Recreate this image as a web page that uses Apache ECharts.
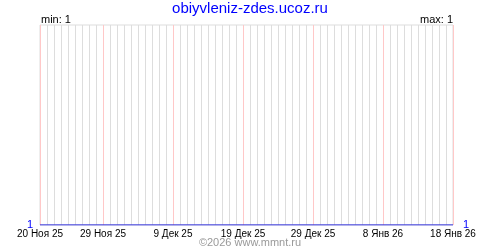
<!DOCTYPE html>
<html><head><meta charset="utf-8">
<script src="https://cdn.jsdelivr.net/npm/echarts@6/dist/echarts.min.js"></script>
<style>html,body{margin:0;padding:0;background:#fff}#c{width:500px;height:250px}</style>
</head><body><div id="c"></div>
<script>
const days = [
 "20 Ноя 25","21 Ноя 25","22 Ноя 25","23 Ноя 25","24 Ноя 25","25 Ноя 25","26 Ноя 25","27 Ноя 25","28 Ноя 25","29 Ноя 25",
 "30 Ноя 25","1 Дек 25","2 Дек 25","3 Дек 25","4 Дек 25","5 Дек 25","6 Дек 25","7 Дек 25","8 Дек 25","9 Дек 25",
 "10 Дек 25","11 Дек 25","12 Дек 25","13 Дек 25","14 Дек 25","15 Дек 25","16 Дек 25","17 Дек 25","18 Дек 25","19 Дек 25",
 "20 Дек 25","21 Дек 25","22 Дек 25","23 Дек 25","24 Дек 25","25 Дек 25","26 Дек 25","27 Дек 25","28 Дек 25","29 Дек 25",
 "30 Дек 25","31 Дек 25","1 Янв 26","2 Янв 26","3 Янв 26","4 Янв 26","5 Янв 26","6 Янв 26","7 Янв 26","8 Янв 26",
 "9 Янв 26","10 Янв 26","11 Янв 26","12 Янв 26","13 Янв 26","14 Янв 26","15 Янв 26","16 Янв 26","17 Янв 26","18 Янв 26"
];
const tickLabels = ["20 Ноя 25","29 Ноя 25","9 Дек 25","19 Дек 25","29 Дек 25","8 Янв 26","18 Янв 26"];
const visits = [
 1,1,1,1,1,1,1,1,1,1,
 1,1,1,1,1,1,1,1,1,1,
 1,1,1,1,1,1,1,1,1,1,
 1,1,1,1,1,1,1,1,1,1,
 1,1,1,1,1,1,1,1,1,1,
 1,1,1,1,1,1,1,1,1,1
];
const titleText = "obiyvleniz-zdes.ucoz.ru";
const minText = "min: 1";
const maxText = "max: 1";
const footerText = "©2026 www.mmnt.ru";

const isMajor = (i) => tickLabels.indexOf(days[i]) >= 0;
const font = "Liberation Sans, Arial, sans-serif";
const chart = echarts.init(document.getElementById('c'), null, {renderer:'canvas'});
chart.setOption({
  animation: false,
  backgroundColor: '#fff',
  title: [
    {text: titleText, left: 'center', top: 1, padding: 0, textStyle:{color:'#0000ff', fontSize:15, fontWeight:'normal', fontFamily:font}},
    {text: minText, left: 41, top: 14, padding: 0, textStyle:{color:'#000', fontSize:11, fontWeight:'normal', fontFamily:font}},
    {text: maxText, right: 47, top: 14, padding: 0, textStyle:{color:'#000', fontSize:11, fontWeight:'normal', fontFamily:font}},
    {text: footerText, left: 'center', top: 237, padding: 0, textStyle:{color:'#999', fontSize:11, fontWeight:'normal', fontFamily:font}}
  ],
  grid: {left: 40, right: 47, top: 25, bottom: 25, show: true, borderColor: '#dddddd', borderWidth: 1},
  xAxis: [
    {type:'category', data: days, boundaryGap:false,
     axisLine:{show:false}, axisTick:{show:false},
     axisLabel:{interval: (i)=>isMajor(i), color:'#000', fontSize:10, fontFamily:font, margin:4},
     splitLine:{show:true, interval:0, lineStyle:{color:'#dddddd', width:1}}}
  ],
  yAxis: [
    {type:'value', min:1, max:2, interval:1, position:'left',
     axisLine:{show:false}, axisTick:{show:false}, splitLine:{show:false},
     axisLabel:{showMaxLabel:false, color:'#0000ff', fontSize:11, fontFamily:font, margin:7}},
    {type:'value', min:1, max:2, interval:1, position:'right',
     axisLine:{show:false}, axisTick:{show:false}, splitLine:{show:false},
     axisLabel:{showMaxLabel:false, color:'#0000ff', fontSize:11, fontFamily:font, margin:10}}
  ],
  series: [
    {type:'custom', silent:true, z:2,
     data: tickLabels.map(t => [t, 1]),
     encode: {x: 0, y: 1},
     renderItem: function (params, api) {
       const p = api.coord([api.value(0), api.value(1)]);
       const x = Math.round(p[0]) + 0.5;
       const cs = params.coordSys;
       return {type:'line', shape:{x1:x, y1:cs.y, x2:x, y2:cs.y + cs.height},
               style:{stroke:'#ffc8c8', lineWidth:1}};
     }},
    {type:'line', data: visits, symbol:'none', lineStyle:{color:'#0000dd', width:1}, z:5}
  ]
});
</script></body></html>
